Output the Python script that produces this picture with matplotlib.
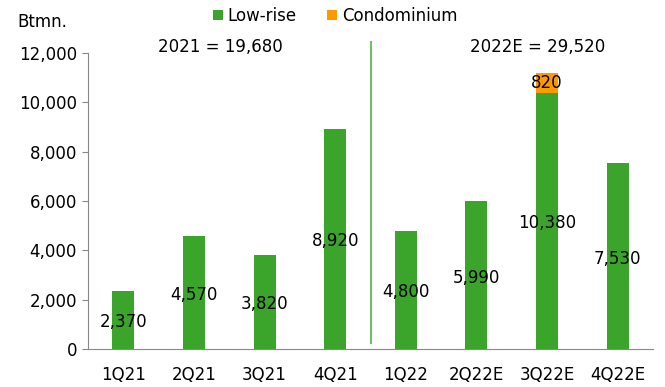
import matplotlib.pyplot as plt
import numpy as np

quarters = ["1Q21", "2Q21", "3Q21", "4Q21", "1Q22", "2Q22E", "3Q22E", "4Q22E"]
low_rise = [2370, 4570, 3820, 8920, 4800, 5990, 10380, 7530]
condo = [0, 0, 0, 0, 0, 0, 820, 0]
year_notes = ["2021 = 19,680", "2022E = 29,520"]

GREEN = "#3aa52a"
ORANGE = "#ff9900"

plt.rcParams["font.family"] = ["DejaVu Sans"]
fig = plt.figure(figsize=(6.65, 3.87), dpi=100)
ax = fig.add_axes([88 / 665, 1 - 349 / 387, 565 / 665, 296 / 387])

x = np.arange(len(quarters))
ax.bar(x, low_rise, width=0.31, color=GREEN, label="Low-rise")
ax.bar(x, condo, width=0.31, bottom=low_rise, color=ORANGE, label="Condominium")

for i, v in enumerate(low_rise):
    ax.text(i, v / 2 - 100, f"{v:,}", ha="center", va="center", fontsize=12)
for i, (b, c) in enumerate(zip(low_rise, condo)):
    if c:
        ax.text(i, b + c / 2, f"{c:,}", ha="center", va="center", fontsize=12)

ax.plot([3.5, 3.5], [250, 12450], color="#6cc160", lw=1.5, clip_on=False)

ax.set_xlim(-0.5, 7.5)
ax.set_ylim(0, 12000)
ax.set_yticks(range(0, 12001, 2000))
ax.set_yticklabels([f"{t:,}" for t in range(0, 12001, 2000)])
ax.set_xticks(x)
ax.set_xticklabels(quarters)
ax.tick_params(axis="y", length=4, color="#888888", labelsize=12, pad=4)
ax.tick_params(axis="x", length=0, labelsize=12, pad=12)
for side in ["top", "right"]:
    ax.spines[side].set_visible(False)
for side in ["left", "bottom"]:
    ax.spines[side].set_color("#888888")

fig.text(17 / 665, 1 - 22 / 387, "Btmn.", fontsize=12, va="center")
fig.text(220 / 665, 1 - 47 / 387, year_notes[0], fontsize=12, ha="center", va="center")
fig.text(538 / 665, 1 - 47 / 387, year_notes[1], fontsize=12, ha="center", va="center")

fig.legend(loc="center", bbox_to_anchor=(335 / 665, 1 - 16 / 387), ncol=2, frameon=False,
           fontsize=12, handlelength=0.6, handleheight=0.6, handletextpad=0.3,
           columnspacing=1.8)

fig.savefig("out.png", dpi=100)
